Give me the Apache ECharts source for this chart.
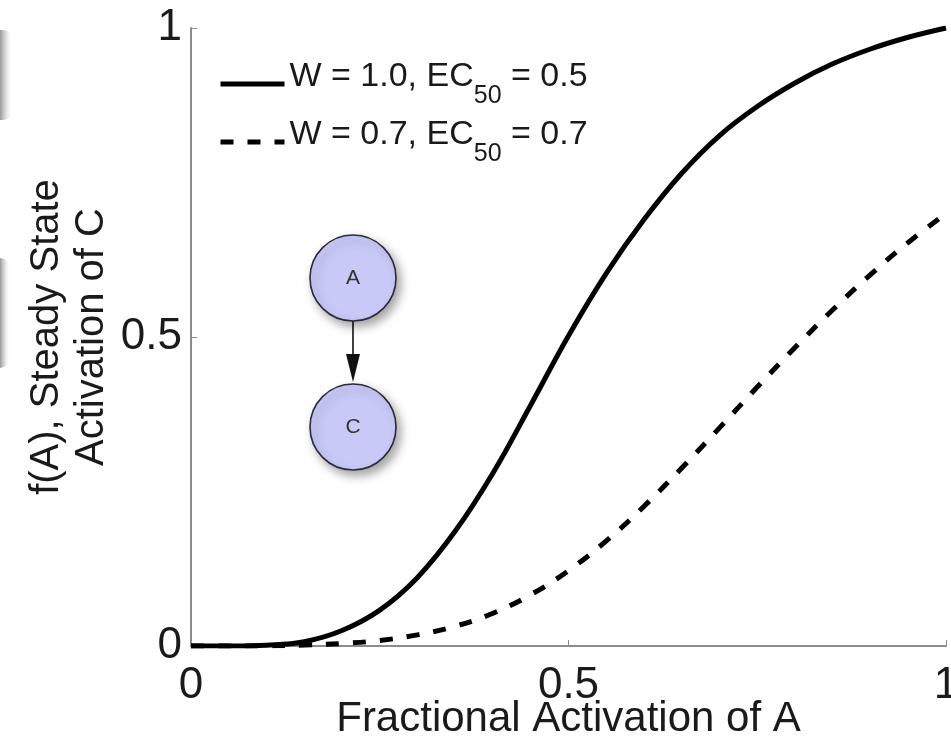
<!DOCTYPE html>
<html>
<head>
<meta charset="utf-8">
<script src="https://cdn.jsdelivr.net/npm/echarts@6/dist/echarts.min.js"></script>
<style>
html,body{margin:0;padding:0;background:#fff;}
#chart{width:951px;height:744px;}
</style>
</head>
<body>
<div id="chart"></div>
<script>
const xValues = [0,0.05,0.1,0.15,0.2,0.25,0.3,0.35,0.4,0.45,0.5,0.55,0.6,0.65,0.7,0.75,0.8,0.85,0.9,0.95,1.0];
const solidValues = [0,0.0001,0.0014,0.007,0.025,0.058,0.111,0.186,0.28,0.39,0.502,0.603,0.69,0.765,0.826,0.873,0.911,0.942,0.966,0.985,1.0];
const dashedValues = [0,0,0.0003,0.0015,0.004,0.009,0.018,0.032,0.053,0.083,0.122,0.17,0.226,0.288,0.353,0.419,0.483,0.544,0.601,0.653,0.70];
const seriesNames = ['W = 1.0, EC50 = 0.5', 'W = 0.7, EC50 = 0.7'];
const xAxisName = 'Fractional Activation of A';
const yAxisName = 'f(A), Steady State\nActivation of C';
const nodeLabels = ['A', 'C'];

const font = '"Liberation Sans", Arial, Helvetica, sans-serif';
const chart = echarts.init(document.getElementById('chart'));

function pairs(ys){ return xValues.map((x,i)=>[x, ys[i]]); }

const nodeFill = '#c9c9f7';
const nodeStroke = '#2a2a3a';
const cx = 353, ay = 278, cy2 = 427, r = 43;
const shade = (x, y, w, h) => ({
  type: 'rect', shape: {x: x, y: y, width: w, height: h, r: [0, 10, 10, 0]}, z: 0, silent: true,
  style: {fill: new echarts.graphic.LinearGradient(0, 0, 1, 0, [
    {offset: 0, color: 'rgba(110,110,110,0.7)'}, {offset: 0.5, color: 'rgba(170,170,170,0.35)'}, {offset: 1, color: 'rgba(255,255,255,0)'}
  ])}
});

chart.setOption({
  backgroundColor: '#fff',
  animation: false,
  grid: {left: 191, right: 5, top: 28, bottom: 98, containLabel: false, outerBoundsMode: 'none'},
  xAxis: {
    type: 'value', min: 0, max: 1, interval: 0.5,
    name: xAxisName, nameLocation: 'middle', nameGap: 52, nameMoveOverlap: false,
    nameTextStyle: {fontFamily: font, fontSize: 42, color: '#1a1a1a'},
    axisLine: {lineStyle: {color: '#8c8c8c', width: 2}},
    axisTick: {inside: true, length: 6, lineStyle: {color: '#8c8c8c', width: 1}},
    axisLabel: {fontFamily: font, fontSize: 44, color: '#1a1a1a', margin: 18, showMinLabel: true, showMaxLabel: true, hideOverlap: false},
    splitLine: {show: false}
  },
  yAxis: {
    type: 'value', min: 0, max: 1, interval: 0.5,
    name: yAxisName, nameLocation: 'middle', nameGap: 77, nameMoveOverlap: false,
    nameTextStyle: {fontFamily: font, fontSize: 40, lineHeight: 45, color: '#1a1a1a', align: 'center'},
    axisLine: {show: true, lineStyle: {color: '#8c8c8c', width: 2}},
    axisTick: {show: true, inside: true, length: 6, lineStyle: {color: '#8c8c8c', width: 1}},
    axisLabel: {fontFamily: font, fontSize: 44, color: '#1a1a1a', margin: 9, showMinLabel: true, showMaxLabel: true},
    splitLine: {show: false}
  },
  legend: {
    orient: 'vertical', left: 218, top: 59, padding: 0,
    itemWidth: 64, itemHeight: 12, itemGap: 8,
    data: seriesNames,
    itemStyle: {opacity: 0},
    lineStyle: {width: 5},
    formatter: function(name){
      const parts = name.split('EC50');
      return '{n|' + parts[0] + 'EC}{s|50}{n|' + parts[1] + '}';
    },
    textStyle: {
      fontFamily: font, color: '#1a1a1a',
      rich: {
        n: {fontFamily: font, fontSize: 34, lineHeight: 34, verticalAlign: 'top', color: '#1a1a1a'},
        s: {fontFamily: font, fontSize: 25, lineHeight: 49, padding: [25, 0, 0, 0], color: '#1a1a1a'}
      }
    }
  },
  series: [
    {
      name: seriesNames[0], type: 'line', data: pairs(solidValues), smooth: 0.4,
      symbol: 'none', lineStyle: {color: '#000', width: 5, type: 'solid'}, itemStyle: {color: '#000'}, z: 3
    },
    {
      name: seriesNames[1], type: 'line', data: pairs(dashedValues), smooth: 0.4,
      symbol: 'none', lineStyle: {color: '#000', width: 5, type: [13, 14], cap: 'butt'}, itemStyle: {color: '#000'}, z: 3
    }
  ],
  graphic: [
    shade(0, 30, 13, 90),
    shade(0, 258, 10, 110),
    {type: 'line', shape: {x1: cx, y1: ay + r, x2: cx, y2: 356}, style: {stroke: '#111', lineWidth: 1.6}, z: 10},
    {type: 'polygon', shape: {points: [[cx - 7, 354], [cx + 7, 354], [cx, cy2 - r - 2]]}, style: {fill: '#111'}, z: 10},
    {type: 'circle', shape: {cx: cx, cy: ay, r: r}, style: {fill: nodeFill, stroke: nodeStroke, lineWidth: 1.6, shadowBlur: 10, shadowOffsetX: 4, shadowOffsetY: 5, shadowColor: 'rgba(0,0,0,0.35)'}, z: 10},
    {type: 'circle', shape: {cx: cx, cy: cy2, r: r}, style: {fill: nodeFill, stroke: nodeStroke, lineWidth: 1.6, shadowBlur: 10, shadowOffsetX: 4, shadowOffsetY: 5, shadowColor: 'rgba(0,0,0,0.35)'}, z: 10},
    {type: 'text', x: cx, y: ay, style: {text: nodeLabels[0], fontFamily: font, fontSize: 21, fill: '#333', align: 'center', verticalAlign: 'middle'}, z: 11},
    {type: 'text', x: cx, y: cy2, style: {text: nodeLabels[1], fontFamily: font, fontSize: 21, fill: '#333', align: 'center', verticalAlign: 'middle'}, z: 11}
  ]
});
</script>
</body>
</html>
